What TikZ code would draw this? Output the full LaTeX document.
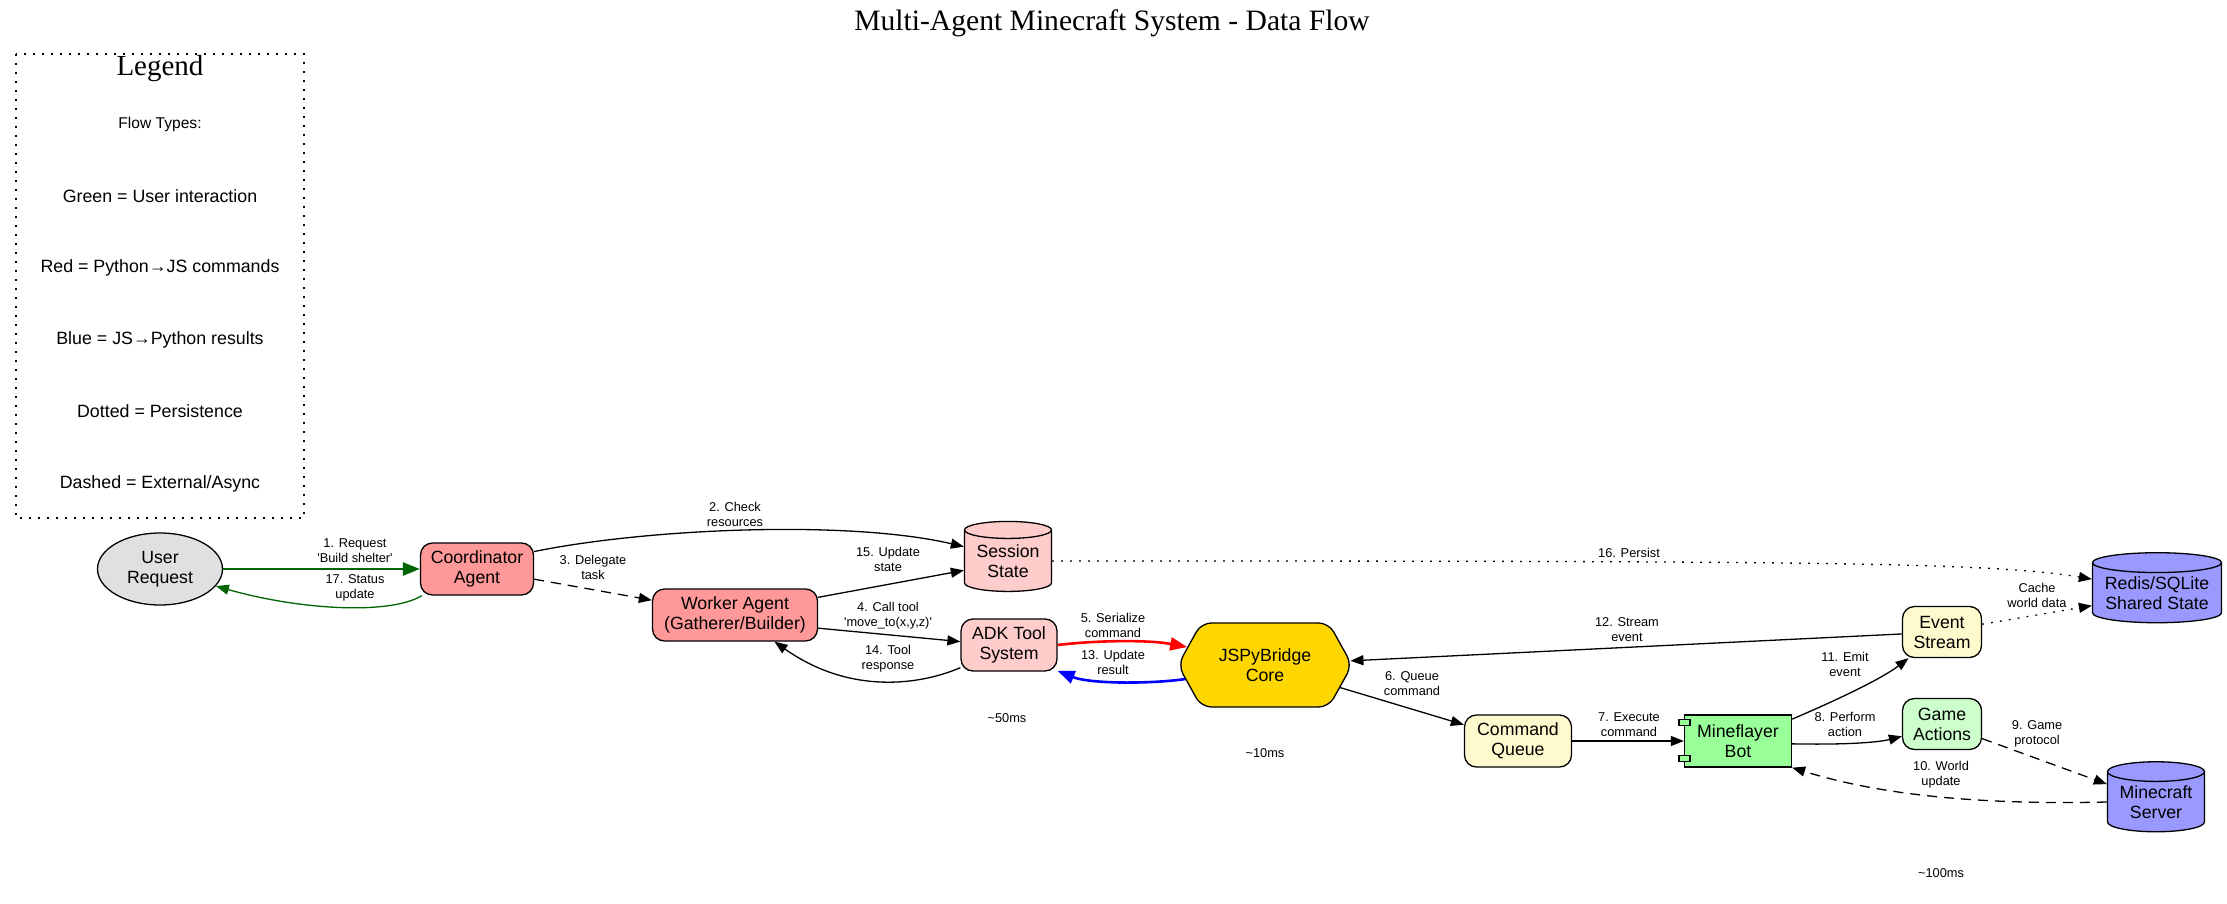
\documentclass[tikz,border=0pt]{standalone}
\usepackage{fontspec}
\setmainfont{Liberation Serif}
\newfontfamily\gvsans{Liberation Sans}[Ligatures=TeXOff]
\usetikzlibrary{shapes.geometric,shapes.symbols,arrows.meta}

\definecolor{usergray}{HTML}{E0E0E0}
\definecolor{agentred}{HTML}{FF9999}
\definecolor{statepink}{HTML}{FFCCCC}
\definecolor{bridgegold}{HTML}{FFD700}
\definecolor{queueyellow}{HTML}{FFFACD}
\definecolor{botgreen}{HTML}{99FF99}
\definecolor{actiongreen}{HTML}{CCFFCC}
\definecolor{storeblue}{HTML}{9999FF}
\definecolor{userflow}{HTML}{006400}

\tikzset{
  gvnode/.style={draw, line width=0.65pt, inner sep=0pt, align=center,
    font=\gvsans\fontsize{8.85}{10}\selectfont},
  agent/.style={gvnode, rectangle, rounded corners=6pt, minimum height=26pt},
  store/.style={gvnode, cylinder, shape border rotate=90, minimum height=35pt},
  elabel/.style={inner sep=0pt, align=center, text=black,
    font=\gvsans\fontsize{6.4}{7.5}\selectfont},
  legitem/.style={inner sep=0pt, font=\gvsans\fontsize{8.9}{10}\selectfont},
  flow/.style={-{Triangle[length=6.5pt,width=5pt]}, line width=0.65pt},
  heavy/.style={-{Triangle[length=8.5pt,width=6.5pt]}, line width=1.3pt},
  gvdash/.style={dash pattern=on 5pt off 3.5pt},
  gvdot/.style={dash pattern=on 0.9pt off 3.6pt},
}

\begin{document}
\begin{tikzpicture}[x=0.5pt, y=-0.5pt]
    \useasboundingbox (0,0) rectangle (2227,904);

    \node[font=\fontsize{14.8}{16}\selectfont] (title) at (1112,23) {Multi-Agent Minecraft System - Data Flow};

    \draw[gvdot, line width=0.65pt] (16,54) rectangle (304,518);
    \node[font=\fontsize{14.5}{16}\selectfont] (legend) at (160,69) {Legend};
    \node[legitem, font=\gvsans\fontsize{7.8}{9}\selectfont] (flowtypes) at (160,124) {Flow Types:};
    \node[legitem] (leggreen) at (160,196) {Green = User interaction};
    \node[legitem] (legred) at (160,268) {Red = Python→JS commands};
    \node[legitem] (legblue) at (160,340) {Blue = JS→Python results};
    \node[legitem] (legdot) at (160,411) {Dotted = Persistence};
    \node[legitem] (legdash) at (160,484) {Dashed = External/Async};

    \node[gvnode, ellipse, fill=usergray, minimum width=62.5pt, minimum height=36pt] (user) at (160,569) {User\\Request};
    \node[agent, fill=agentred, minimum width=56.5pt] (coord) at (477,569) {Coordinator\\Agent};
    \node[agent, fill=agentred, minimum width=82.5pt] (worker) at (735,615) {Worker Agent\\(Gatherer/Builder)};
    \node[store, fill=statepink, minimum width=43.5pt, aspect=0.27] (sess) at (1008,561) {Session\\State};
    \node[agent, fill=statepink, minimum width=48pt] (adk) at (1009,645) {ADK Tool\\System};
    \node[gvnode, signal, signal to=east and west, signal pointer angle=122, rounded corners=5pt,
      fill=bridgegold, minimum width=87pt, minimum height=42pt] (jspy) at (1265,665) {JSPyBridge\\Core};
    \node[agent, fill=queueyellow, minimum width=53.5pt] (cq) at (1518,741) {Command\\Queue};
    \node[gvnode, rectangle, fill=botgreen, minimum width=53.5pt, minimum height=26pt] (mine) at (1738,741) {Mineflayer\\Bot};
    \draw[line width=0.65pt, fill=botgreen] ([xshift=-2.5pt,yshift=-2.5pt]mine.north west) rectangle ++(5.5pt,-3pt);
    \draw[line width=0.65pt, fill=botgreen] ([xshift=-2.5pt,yshift=3pt]mine.south west) rectangle ++(5.5pt,3pt);
    \node[agent, fill=queueyellow, minimum width=39.5pt, minimum height=25.5pt] (event) at (1942,632) {Event\\Stream};
    \node[agent, fill=actiongreen, minimum width=39.5pt, minimum height=25.5pt] (game) at (1942,724) {Game\\Actions};
    \node[store, fill=storeblue, minimum width=64.5pt, aspect=0.19] (redis) at (2157,593) {Redis/SQLite\\Shared State};
    \node[store, fill=storeblue, minimum width=48.5pt, aspect=0.27] (ms) at (2156,802) {Minecraft\\Server};

    \node[elabel] (t50) at (1007,718) {\textasciitilde 50ms};
    \node[elabel] (t10) at (1265,753) {\textasciitilde 10ms};
    \node[elabel] (t100) at (1941,873) {\textasciitilde 100ms};

    \draw[heavy, userflow] (user) -- (coord) node[elabel] at (355,551) {1. Request\\'Build shelter'};
    \draw[flow, userflow] ([xshift=1pt]coord.south west) .. controls (390,615) and (300,610) .. (user.-17)
      node[elabel] at (355,588) {17. Status\\update};
    \draw[flow] (coord.17) .. controls (650,528) and (850,520) .. (sess.162) node[elabel] at (735,514) {2. Check\\resources};
    \draw[flow, gvdash] (coord) -- (worker) node[elabel] at (593,567) {3. Delegate\\task};
    \draw[flow] (worker.12) -- (sess.192) node[elabel] at (888,559) {15. Update\\state};
    \draw[flow] (worker.-9) -- (adk.176) node[elabel] at (888,616) {4. Call tool\\'move\_to(x,y,z)'};
    \draw[flow] (adk.205) .. controls (920,685) and (850,695) .. (worker.-34) node[elabel] at (888,659) {14. Tool\\response};
    \draw[heavy, red] (adk.east) .. controls (1100,640) and (1150,640) .. (jspy.167) node[elabel] at (1113,625) {5. Serialize\\command};
    \draw[heavy, blue] (jspy.190) .. controls (1150,684) and (1090,684) .. (adk.-28) node[elabel] at (1113,662) {13. Update\\result};
    \draw[flow] (jspy) -- (cq) node[elabel] at (1412,684) {6. Queue\\command};
    \draw[flow] (cq) -- (mine) node[elabel] at (1629,725) {7. Execute\\command};
    \draw[flow] (mine.-3) .. controls (1850,745) and (1880,742) .. (game.197) node[elabel] at (1845,724) {8. Perform\\action};
    \draw[flow, gvdash] (game.-20) -- (ms.160) node[elabel] at (2037,734) {9. Game\\protocol};
    \draw[flow, gvdash] (ms.180) .. controls (1980,805) and (1880,795) .. (mine.south east) node[elabel] at (1941,775) {10. World\\update};
    \draw[flow] (mine.22) .. controls (1830,703) and (1880,680) .. (event.218) node[elabel] at (1845,664) {11. Emit\\event};
    \draw[flow] (event) -- (jspy) node[elabel] at (1627,630) {12. Stream\\event};
    \draw[flow, gvdot] (sess.0) .. controls (1800,561) and (1990,562) .. (redis.168) node[elabel] at (1629,553) {16. Persist};
    \draw[flow, gvdot] (event.11) -- (redis.191) node[elabel] at (2037,595) {Cache\\world data};
\end{tikzpicture}
\end{document}
